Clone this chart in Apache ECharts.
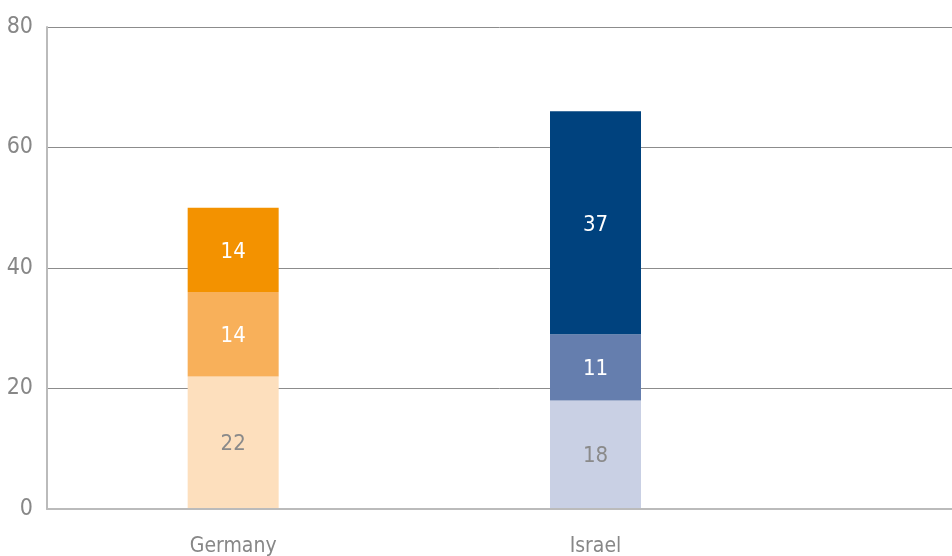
<!DOCTYPE html>
<html>
<head>
<meta charset="utf-8">
<script src="https://cdn.jsdelivr.net/npm/echarts@6/dist/echarts.min.js"></script>
<style>html,body{margin:0;padding:0;background:#fff;}#c{width:952px;height:556px;}</style>
</head>
<body>
<div id="c"></div>
<script>
const categories = ['Germany', 'Israel', ''];
const bottomValues = [22, 18, null];
const middleValues = [14, 11, null];
const topValues = [14, 37, null];
const yTicks = [0, 20, 40, 60, 80];

const bottomColors = ['#FDDFBD', '#C9D0E4'];
const middleColors = ['#F8B05A', '#657EAE'];
const topColors = ['#F39200', '#00427E'];

const FONT = "'Liberation Sans Narrow', 'DejaVu Sans Condensed', 'Noto Sans', sans-serif";

function layer(name, values, colors, labelColor) {
  return {
    name: name, type: 'bar', stack: 'total', xAxisIndex: 1, yAxisIndex: 1,
    barWidth: 91,
    data: values.map((v, i) => ({ value: v, itemStyle: { color: colors[i] } })),
    label: { show: true, position: 'inside', color: labelColor, fontFamily: FONT, fontSize: 22, offset: [0, 2] },
    emphasis: { disabled: true }
  };
}

const chart = echarts.init(document.getElementById('c'), null, { renderer: 'canvas' });
chart.setOption({
  animation: false,
  backgroundColor: '#fff',
  grid: [
    { left: 47, right: 0, top: 27, bottom: 47, outerBoundsMode: 'none', containLabel: false },
    { left: 52, width: 1087, top: 27, bottom: 47, outerBoundsMode: 'none', containLabel: false }
  ],
  xAxis: [
    { type: 'category', gridIndex: 0, data: [''], boundaryGap: true,
      axisLine: { show: true, lineStyle: { color: '#bbbbbb', width: 2 } },
      axisTick: { show: false }, axisLabel: { show: false }, z: 5 },
    { type: 'category', gridIndex: 1, data: categories,
      axisLine: { show: false }, axisTick: { show: false },
      axisLabel: { color: '#878787', fontFamily: FONT, fontSize: 21, margin: 27 } }
  ],
  yAxis: [
    { type: 'value', gridIndex: 0, min: yTicks[0], max: yTicks[yTicks.length - 1], interval: 20,
      axisLine: { show: true, lineStyle: { color: '#bbbbbb', width: 2 } },
      axisTick: { show: false },
      splitLine: { show: true, lineStyle: { color: '#8c8c8c', width: 1 } },
      axisLabel: { color: '#878787', fontFamily: FONT, fontSize: 23, margin: 14 } },
    { type: 'value', gridIndex: 1, min: 0, max: 80, interval: 20, show: false, splitLine: { show: false } }
  ],
  series: [
    layer('bottom', bottomValues, bottomColors, '#8a8a8a'),
    layer('middle', middleValues, middleColors, '#ffffff'),
    layer('top', topValues, topColors, '#ffffff')
  ]
});
</script>
</body>
</html>
